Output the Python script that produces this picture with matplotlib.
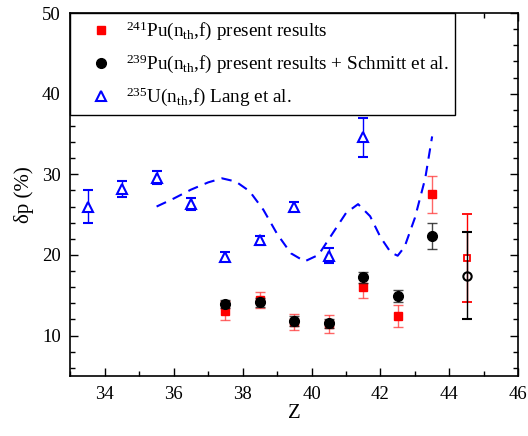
import matplotlib
matplotlib.use("Agg")
import matplotlib.pyplot as plt
from matplotlib.ticker import MultipleLocator
from matplotlib.lines import Line2D

plt.rcParams['font.family'] = ['Liberation Serif', 'DejaVu Serif']
plt.rcParams['mathtext.fontset'] = 'custom'
plt.rcParams['mathtext.rm'] = 'Liberation Serif'
plt.rcParams['mathtext.it'] = 'Liberation Serif:italic'

# 241Pu(nth,f) present results
pu241_z = [37.5, 38.5, 39.5, 40.5, 41.5, 42.5, 43.5]
pu241_dp = [13.1, 14.4, 11.7, 11.4, 16.0, 12.4, 27.5]
pu241_err = [1.2, 1.0, 1.0, 1.1, 1.3, 1.4, 2.3]
pu241_open_z = [44.5]
pu241_open_dp = [19.6]
pu241_open_err = [5.5]

# 239Pu(nth,f) present results + Schmitt et al.
pu239_z = [37.5, 38.5, 39.5, 40.5, 41.5, 42.5, 43.5]
pu239_dp = [13.9, 14.1, 11.8, 11.5, 17.2, 14.9, 22.3]
pu239_err = [0.5, 0.5, 0.6, 0.6, 0.7, 0.8, 1.6]
pu239_open_z = [44.5]
pu239_open_dp = [17.4]
pu239_open_err = [5.4]

# 235U(nth,f) Lang et al.
u235_z = [33.5, 34.5, 35.5, 36.5, 37.5, 38.5, 39.5, 40.5, 41.5]
u235_dp = [26.0, 28.2, 29.6, 26.3, 19.8, 21.8, 26.0, 19.9, 34.6]
u235_err = [2.0, 1.0, 0.8, 0.7, 0.6, 0.6, 0.6, 0.9, 2.4]

# model curve
curve_z = [35.5, 36.0, 36.5, 37.0, 37.4, 37.8, 38.2, 38.6, 39.0, 39.4, 39.8,
           40.2, 40.6, 41.0, 41.35, 41.7, 42.0, 42.3, 42.5, 42.7, 43.0, 43.3, 43.5]
curve_dp = [26.0, 27.0, 28.1, 29.0, 29.5, 29.1, 27.9, 25.6, 22.6, 20.2, 19.2,
            20.0, 22.6, 25.2, 26.3, 24.8, 22.2, 20.3, 19.9, 21.0, 24.6, 29.5, 34.7]

fig = plt.figure(figsize=(5.28, 4.36), dpi=100)
ax = fig.add_axes([0.1335, 0.138, 0.848, 0.832])

blue = '#0000ff'
red = '#ff0000'

ax.plot(curve_z, curve_dp, color=blue, lw=1.5, ls=(0, (5, 3.5)), zorder=2)

ax.errorbar(u235_z, u235_dp, yerr=u235_err, fmt='^', ms=6.5, mfc='white',
            mec=blue, mew=1.5, ecolor=blue, elinewidth=1.0, capsize=3.5,
            capthick=1.0, zorder=3)

ax.errorbar(pu241_z, pu241_dp, yerr=pu241_err, fmt='s', ms=5.5, mfc=red,
            mec=red, ecolor=(1, 0.2, 0.2, 0.75), elinewidth=1.0, capsize=3.5,
            capthick=1.0, zorder=4)
ax.errorbar(pu241_open_z, pu241_open_dp, yerr=pu241_open_err, fmt='s', ms=5,
            mfc='white', mec=red, mew=1.3, ecolor=red, elinewidth=1.0,
            capsize=3.5, capthick=1.0, zorder=4)

ax.errorbar(pu239_z, pu239_dp, yerr=pu239_err, fmt='o', ms=7, mfc='black',
            mec='black', ecolor=(0.1, 0.1, 0.1, 0.8), elinewidth=1.0,
            capsize=3.5, capthick=1.0, zorder=5)
ax.errorbar(pu239_open_z, pu239_open_dp, yerr=pu239_open_err, fmt='o', ms=6,
            mfc='none', mec='black', mew=1.5, ecolor='black', elinewidth=1.0,
            capsize=3.5, capthick=1.0, zorder=5)

ax.set_xlim(33, 46)
ax.set_ylim(5, 50)
ax.xaxis.set_major_locator(MultipleLocator(2))
ax.xaxis.set_minor_locator(MultipleLocator(1))
ax.yaxis.set_major_locator(MultipleLocator(10))
ax.yaxis.set_minor_locator(MultipleLocator(2))
ax.tick_params(which='both', direction='in', top=True, right=True,
               labelsize=13.5, width=1.0)
ax.tick_params(which='major', length=6, pad=7)
ax.tick_params(which='minor', length=3.5)
for s in ax.spines.values():
    s.set_linewidth(1.2)

ax.set_xlabel('Z', fontsize=15, labelpad=1)
ax.set_ylabel(r'δp (%)', fontsize=15, labelpad=6)

legend_handles = [
    Line2D([], [], ls='none', marker='s', ms=5.5, mfc=red, mec=red),
    Line2D([], [], ls='none', marker='o', ms=7, mfc='black', mec='black'),
    Line2D([], [], ls='none', marker='^', ms=6.5, mfc='white', mec=blue, mew=1.5),
]
legend_labels = [
    r'$^{241}$Pu(n$_{\rm th}$,f) present results',
    r'$^{239}$Pu(n$_{\rm th}$,f) present results + Schmitt et al.',
    r'$^{235}$U(n$_{\rm th}$,f) Lang et al.',
]
leg = ax.legend(legend_handles, legend_labels,
                loc='upper left', bbox_to_anchor=(0, 1), borderaxespad=0,
                fontsize=13.75, frameon=True, fancybox=False, edgecolor='black',
                framealpha=1, labelspacing=0.55, handletextpad=0.1,
                borderpad=0.35, handlelength=2.45)
leg.get_frame().set_linewidth(1.0)

fig.savefig('out.png', dpi=100)
